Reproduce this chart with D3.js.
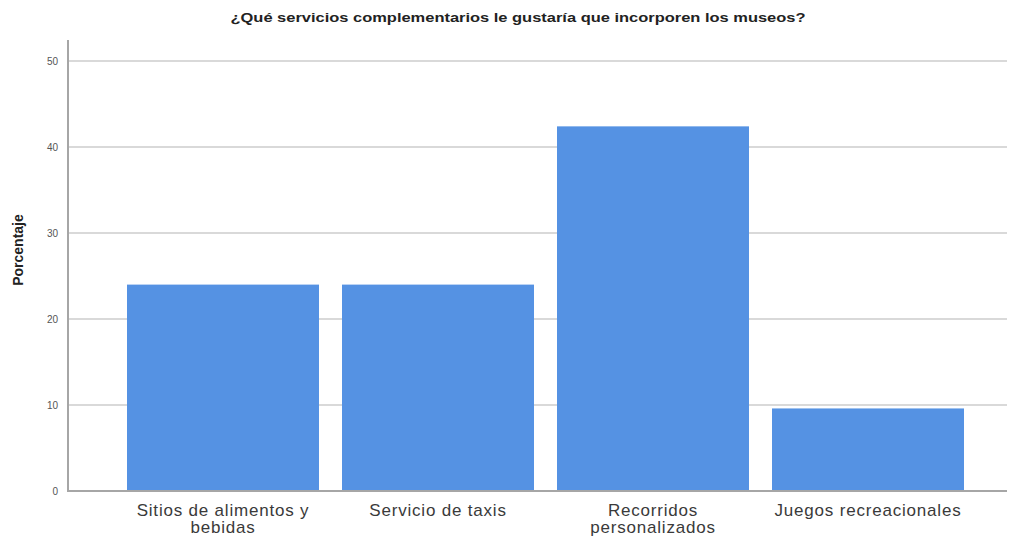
<!DOCTYPE html>
<html><head><meta charset="utf-8">
<script src="https://cdn.jsdelivr.net/npm/d3@7"></script>
<style>body{margin:0;background:#fff}svg{display:block}</style>
</head><body>
<svg id="c" width="1009" height="538"></svg>
<script>
const categories = [["Sitios de alimentos y","bebidas"],["Servicio de taxis"],["Recorridos","personalizados"],["Juegos recreacionales"]];
const values = [24.0, 24.0, 42.4, 9.6];
const yTicks = [0,10,20,30,40,50];
const title = "¿Qué servicios complementarios le gustaría que incorporen los museos?";
const yLabel = "Porcentaje";

const svg = d3.select("#c");
const x0 = 68, y0 = 491, yTop = 61, xEnd = 1007;
const keys = categories.map((c,i)=>i);
const x = d3.scaleBand().domain(keys).range([115.5, 975.5]).paddingInner(0.107).paddingOuter(0.0535);
const y = d3.scaleLinear().domain([0,50]).range([y0, yTop]);

// gridlines
svg.append("g").selectAll("line").data(yTicks.filter(d=>d>0)).join("line")
  .attr("x1", x0).attr("x2", xEnd).attr("y1", d=>y(d)).attr("y2", d=>y(d))
  .attr("stroke", "#d9d9d9").attr("stroke-width", 2);

// bars
svg.append("g").selectAll("rect").data(values).join("rect")
  .attr("x", (d,i)=>x(i)).attr("width", x.bandwidth())
  .attr("y", d=>y(d)).attr("height", d=>y0 - y(d))
  .attr("fill", "#5592e3");

// axes lines
svg.append("line").attr("x1", x0).attr("x2", x0).attr("y1", 40).attr("y2", y0)
  .attr("stroke", "#a6a6a6").attr("stroke-width", 2);
svg.append("line").attr("x1", x0-1).attr("x2", xEnd).attr("y1", y0).attr("y2", y0)
  .attr("stroke", "#a6a6a6").attr("stroke-width", 2);

// y tick labels
const yAxis = d3.axisLeft(y).tickValues(yTicks).tickSize(0).tickPadding(10).tickFormat(d3.format("d"));
const ya = svg.append("g").attr("transform", `translate(${x0},0)`).call(yAxis);
ya.select(".domain").remove();
ya.selectAll("text").attr("font-family","Liberation Sans, Arial, sans-serif").attr("font-size", 10).attr("fill", "#555");

// x labels
const xl = svg.append("g");
categories.forEach((lines,i)=>{
  const t = xl.append("text").attr("x", x(i)+x.bandwidth()/2).attr("y", 516)
    .attr("text-anchor","middle").attr("font-family","Liberation Sans, Arial, sans-serif")
    .attr("font-size", 17).attr("letter-spacing", "0.8px").attr("fill", "#3a3a3a");
  lines.forEach((l,j)=>t.append("tspan").attr("x", x(i)+x.bandwidth()/2).attr("dy", j===0?0:17).text(l));
});

// title
svg.append("text").attr("x", 518).attr("y", 22).attr("text-anchor","middle")
  .attr("font-family","Liberation Sans, Arial, sans-serif").attr("font-weight","bold")
  .attr("font-size", 13).attr("textLength", 575).attr("lengthAdjust","spacingAndGlyphs")
  .attr("fill","#222").text(title);

// y label
svg.append("text").attr("transform", "translate(23,250) rotate(-90)").attr("text-anchor","middle")
  .attr("font-family","Liberation Sans, Arial, sans-serif").attr("font-weight","bold")
  .attr("font-size", 14).attr("fill","#222").text(yLabel);
</script>
</body></html>
